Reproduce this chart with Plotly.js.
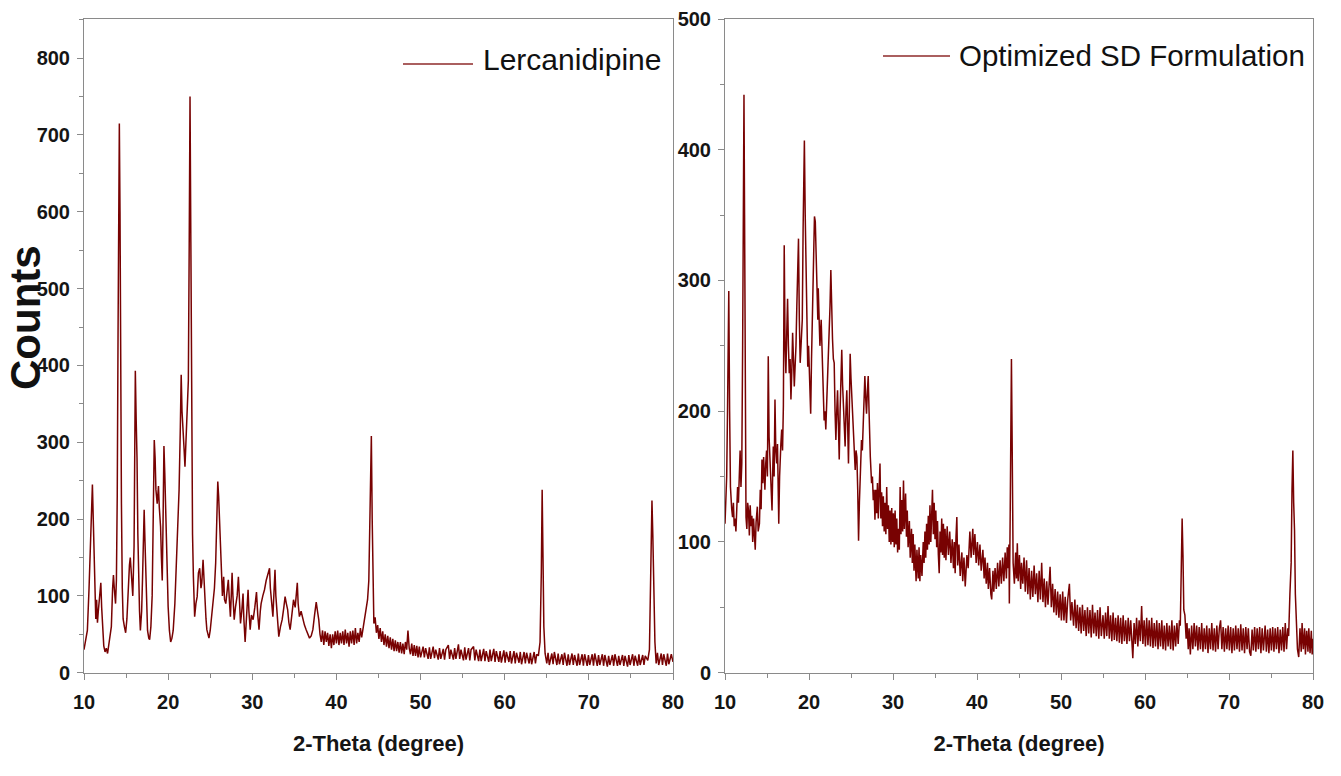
<!DOCTYPE html>
<html>
<head>
<meta charset="utf-8">
<script src="https://cdn.plot.ly/plotly-3.0.1.min.js"></script>
<style>
html,body{margin:0;padding:0;background:#fff;}
#chart{width:1341px;height:776px;}
</style>
</head>
<body>
<div id="chart"></div>
<script>
// ---- Data: [2-theta (degree), counts] ----
const lercanidipineScan = [
[10.0,30],[10.2,45],[10.4,55],[10.6,110],[10.8,190],[11.0,245],[11.1,200],[11.2,150],[11.3,100],[11.4,70],
[11.5,95],[11.6,65],[11.7,80],[11.85,100],[12.0,117],[12.1,85],[12.2,55],[12.35,35],[12.5,27],[12.65,32],
[12.8,25],[12.95,35],[13.1,45],[13.25,60],[13.4,110],[13.5,127],[13.6,110],[13.75,90],[13.85,120],[13.95,230],
[14.05,450],[14.15,690],[14.2,715],[14.28,600],[14.35,400],[14.45,220],[14.55,110],[14.65,70],[14.8,60],[14.95,52],
[15.1,70],[15.25,110],[15.4,140],[15.5,150],[15.65,130],[15.8,100],[15.95,165],[16.05,300],[16.1,393],[16.2,330],
[16.3,280],[16.4,180],[16.5,120],[16.6,80],[16.7,55],[16.85,80],[16.95,120],[17.05,180],[17.15,212],[17.25,170],
[17.35,130],[17.45,80],[17.55,55],[17.7,45],[17.8,43],[17.95,60],[18.1,100],[18.2,180],[18.3,270],[18.35,303],
[18.45,280],[18.55,238],[18.7,220],[18.85,243],[18.95,215],[19.1,190],[19.2,150],[19.3,120],[19.4,200],[19.5,295],
[19.6,260],[19.7,220],[19.8,160],[19.9,110],[20.0,86],[20.15,55],[20.3,40],[20.45,45],[20.6,55],[20.8,90],
[21.0,143],[21.15,190],[21.3,238],[21.45,320],[21.55,388],[21.65,340],[21.8,316],[21.9,290],[22.0,268],[22.1,300],
[22.2,312],[22.3,350],[22.4,380],[22.5,550],[22.6,750],[22.7,560],[22.8,273],[22.9,180],[23.0,125],[23.15,73],
[23.3,90],[23.45,99],[23.6,130],[23.75,136],[23.9,110],[24.0,117],[24.15,147],[24.25,120],[24.35,99],[24.5,70],
[24.6,56],[24.75,50],[24.85,45],[25.0,55],[25.15,70],[25.3,86],[25.5,110],[25.65,143],[25.8,200],[25.9,249],
[26.0,230],[26.1,203],[26.2,160],[26.3,130],[26.45,100],[26.6,125],[26.7,95],[26.85,90],[27.0,105],[27.15,121],
[27.3,90],[27.4,73],[27.5,100],[27.6,130],[27.7,100],[27.85,69],[28.0,85],[28.2,100],[28.35,125],[28.5,90],
[28.6,64],[28.75,80],[28.9,103],[29.0,70],[29.15,40],[29.3,70],[29.5,108],[29.6,80],[29.75,56],[29.9,75],
[30.1,69],[30.3,85],[30.5,105],[30.65,75],[30.8,56],[30.95,80],[31.05,90],[31.25,100],[31.45,108],[31.65,120],
[31.85,130],[32.05,136],[32.15,110],[32.25,99],[32.35,80],[32.45,73],[32.6,110],[32.7,134],[32.8,100],[32.95,73],
[33.05,60],[33.15,47],[33.35,60],[33.55,69],[33.75,85],[33.9,99],[34.05,90],[34.2,82],[34.35,65],[34.5,56],
[34.7,75],[34.9,95],[35.1,85],[35.25,100],[35.35,117],[35.45,90],[35.6,73],[35.8,80],[36.0,69],[36.2,62],
[36.4,56],[36.6,50],[36.8,45],[37.0,48],[37.2,56],[37.4,75],[37.6,92],[37.75,80],[37.9,69],[38.05,50],
[38.2,40],[38.35,55],[38.5,36],[38.65,54],[38.8,40],[38.95,52],[39.1,35],[39.25,50],[39.4,32],[39.55,50],
[39.7,36],[39.85,54],[40.0,38],[40.15,55],[40.3,36],[40.45,52],[40.6,38],[40.75,54],[40.9,36],[41.05,56],
[41.2,38],[41.35,52],[41.5,34],[41.65,54],[41.8,38],[41.95,55],[42.1,36],[42.25,58],[42.4,38],[42.55,52],
[42.7,40],[42.85,58],[43.0,46],[43.2,60],[43.4,75],[43.55,86],[43.7,95],[43.85,120],
[43.95,200],[44.05,290],[44.15,308],[44.25,200],[44.35,110],[44.45,64],[44.6,72],[44.75,52],[44.9,62],[45.05,44],
[45.2,58],[45.35,40],[45.5,54],[45.65,36],[45.8,50],[45.95,34],[46.1,48],[46.25,32],[46.4,46],[46.55,30],
[46.7,44],[46.85,28],[47.0,42],[47.15,28],[47.3,40],[47.45,26],[47.6,40],[47.75,25],[47.9,38],[48.05,24],
[48.2,40],[48.35,30],[48.5,55],[48.65,32],[48.8,24],[48.95,38],[49.1,22],[49.25,36],[49.4,22],[49.55,35],
[49.7,20],[49.85,34],[50.0,20],[50.3,34],[50.45,20],[50.6,32],[50.9,18],[51.05,33],[51.2,18],[51.5,34],
[51.65,19],[51.8,30],[52.1,17],[52.25,32],[52.4,18],[52.7,31],[52.85,17],[53.0,30],[53.3,36],[53.45,18],
[53.6,30],[53.9,17],[54.05,32],[54.2,18],[54.5,37],[54.65,18],[54.8,30],[55.1,16],[55.25,33],[55.4,17],
[55.7,32],[55.85,16],[56.0,30],[56.3,34],[56.45,16],[56.6,30],[56.9,15],[57.05,30],[57.2,15],[57.5,31],
[57.65,15],[57.8,28],[58.1,14],[58.25,30],[58.4,15],[58.7,31],[58.85,14],[59.0,28],[59.3,14],[59.45,28],
[59.6,13],[59.9,29],[60.05,13],[60.2,27],[60.5,14],[60.65,28],[60.8,12],[61.1,28],[61.25,12],[61.4,26],
[61.7,13],[61.85,27],[62.0,11],[62.3,27],[62.45,12],[62.6,26],[62.9,12],[63.05,26],[63.2,11],[63.5,27],
[63.65,12],[63.8,24],[64.0,22],[64.2,40],[64.35,130],[64.45,238],[64.55,150],[64.65,60],[64.8,25],[65.0,12],
[65.15,26],[65.3,10],[65.6,25],[65.75,11],[65.9,27],[66.2,10],[66.35,25],[66.5,11],[66.8,24],[66.95,10],
[67.1,26],[67.4,9],[67.55,24],[67.7,10],[68.0,25],[68.15,10],[68.3,23],[68.6,9],[68.75,25],[68.9,10],
[69.2,24],[69.35,9],[69.5,24],[69.8,9],[69.95,23],[70.1,10],[70.4,24],[70.55,9],[70.7,25],[71.0,9],
[71.15,23],[71.3,10],[71.6,24],[71.75,9],[71.9,23],[72.2,8],[72.35,22],[72.5,10],[72.8,23],[72.95,9],
[73.1,24],[73.4,9],[73.55,22],[73.7,10],[74.0,23],[74.15,9],[74.3,22],[74.6,8],[74.75,23],[74.9,10],
[75.2,24],[75.35,9],[75.5,22],[75.8,9],[75.95,24],[76.1,10],[76.4,23],[76.55,10],[76.7,22],[77.0,16],
[77.2,30],[77.35,110],[77.45,200],[77.5,224],[77.6,180],[77.7,100],[77.85,40],[78.0,12],[78.15,26],[78.3,10],
[78.6,25],[78.75,10],[78.9,24],[79.2,9],[79.35,25],[79.5,11],[79.8,24],[80.0,14]
];

const optimizedSdScan = [
[10.0,114],[10.1,140],[10.2,150],[10.3,200],[10.4,270],[10.45,292],[10.55,200],[10.65,142],[10.8,125],[10.9,119],
[11.0,130],[11.1,112],[11.2,118],[11.3,108],[11.4,125],[11.5,142],[11.6,130],[11.7,165],[11.8,170],[11.9,142],
[12.0,160],[12.1,250],[12.2,400],[12.26,442],[12.33,350],[12.4,200],[12.5,119],[12.6,110],[12.7,130],[12.8,124],
[12.9,105],[13.0,128],[13.1,112],[13.2,120],[13.3,100],[13.4,118],[13.5,98],[13.6,94],[13.7,115],[13.85,127],
[13.95,108],[14.1,114],[14.2,140],[14.3,125],[14.4,163],[14.5,145],[14.6,165],[14.75,140],[14.85,160],[14.95,170],
[15.05,150],[15.15,242],[15.25,180],[15.35,163],[15.45,140],[15.6,124],[15.7,160],[15.75,173],[15.85,150],[15.95,209],
[16.05,170],[16.15,160],[16.25,175],[16.4,114],[16.5,150],[16.55,168],[16.65,175],[16.75,186],[16.85,170],[16.95,204],
[17.05,327],[17.15,250],[17.25,229],[17.35,260],[17.45,286],[17.55,250],[17.65,229],[17.75,240],[17.85,209],[17.95,230],
[18.05,260],[18.15,240],[18.25,219],[18.35,235],[18.45,250],[18.55,280],[18.65,300],[18.75,332],[18.85,270],[18.95,237],
[19.05,250],[19.2,270],[19.3,340],[19.4,395],[19.45,407],[19.55,350],[19.65,300],[19.75,260],[19.85,234],[19.95,250],
[20.05,227],[20.2,198],[20.3,240],[20.4,270],[20.5,300],[20.6,330],[20.65,349],[20.75,345],[20.85,320],[20.95,280],
[21.05,270],[21.1,294],[21.2,260],[21.3,250],[21.45,270],[21.6,239],[21.7,210],[21.8,193],[21.9,200],[22.0,186],
[22.1,205],[22.2,221],[22.3,240],[22.4,250],[22.5,280],[22.6,308],[22.7,270],[22.8,255],[22.9,240],[23.0,237],
[23.1,200],[23.2,178],[23.3,200],[23.4,216],[23.5,190],[23.6,163],[23.7,200],[23.8,230],[23.9,247],[24.0,220],
[24.1,198],[24.2,185],[24.3,173],[24.4,200],[24.5,216],[24.6,190],[24.7,160],[24.8,200],[24.9,244],[25.0,225],
[25.1,211],[25.2,190],[25.3,178],[25.4,165],[25.5,155],[25.6,170],[25.7,165],[25.8,140],[25.9,101],[26.0,130],
[26.05,140],[26.15,165],[26.25,178],[26.35,170],[26.45,186],[26.55,200],[26.65,227],[26.75,210],[26.85,198],[26.95,215],
[27.05,227],[27.15,200],[27.2,181],[27.3,165],[27.45,145],[27.55,150],[27.65,132],[27.75,140],
[27.85,117],[27.95,140],[28.05,122],[28.15,145],[28.25,118],[28.35,140],[28.45,160],[28.55,118],[28.65,138],[28.75,112],
[28.85,135],[28.95,108],[29.05,130],[29.15,106],[29.25,142],[29.35,110],[29.45,128],[29.55,100],[29.65,124],[29.75,98],
[29.85,126],[29.95,100],[30.05,122],[30.15,96],[30.25,124],[30.35,98],[30.45,118],[30.55,92],[30.65,110],[30.75,94],
[30.85,142],[30.95,106],[31.05,132],[31.15,108],[31.25,147],[31.35,110],[31.5,137],[31.6,104],[31.7,124],[31.8,96],
[31.95,116],[32.05,88],[32.2,110],[32.3,84],[32.4,106],[32.5,78],[32.6,98],[32.75,70],[32.85,94],[33.0,72],
[33.1,96],[33.2,70],[33.3,90],[33.45,74],[33.6,100],[33.7,84],[33.8,108],[33.9,88],[34.0,114],[34.1,94],
[34.2,120],[34.3,98],[34.4,128],[34.5,100],[34.6,132],[34.7,140],[34.8,106],[34.9,130],[35.0,102],[35.1,124],
[35.2,96],[35.3,116],[35.4,90],[35.5,76],[35.6,108],[35.7,92],[35.8,118],[35.9,90],[36.0,114],[36.1,88],
[36.2,110],[36.3,86],[36.45,112],[36.6,90],[36.75,108],[36.9,84],[37.05,102],[37.2,80],[37.3,100],[37.4,76],
[37.5,104],[37.6,119],[37.7,82],[37.85,98],[38.0,74],[38.2,92],[38.3,70],[38.45,88],[38.6,66],[38.8,90],
[38.95,80],[39.15,108],[39.3,88],[39.5,110],[39.6,90],[39.75,106],[39.9,84],[40.05,100],[40.2,82],[40.35,98],
[40.5,78],[40.7,94],[40.85,72],[40.95,88],[41.1,68],[41.25,84],[41.35,64],[41.5,80],[41.65,60],[41.75,56],
[41.9,78],[42.0,62],[42.15,80],[42.3,64],[42.45,84],[42.6,66],[42.75,86],[42.9,68],[43.05,88],[43.2,70],
[43.35,92],[43.5,72],[43.6,96],[43.7,80],[43.8,98],[43.85,53],[43.95,120],[44.05,230],[44.1,240],[44.18,180],
[44.25,90],[44.3,84],[44.45,68],[44.6,92],[44.7,72],[44.8,99],[44.9,70],[45.05,90],[45.2,64],[45.3,84],
[45.45,68],[45.6,88],[45.75,62],[45.9,86],[46.05,60],[46.2,80],[46.35,56],[46.5,78],[46.65,58],[46.8,82],
[46.95,60],[47.1,76],[47.25,54],[47.4,78],[47.55,56],[47.7,84],[47.85,54],[48.0,72],[48.15,50],[48.3,70],
[48.45,52],[48.6,66],[48.7,81],[48.85,50],[49.0,68],[49.15,46],[49.3,64],[49.45,44],[49.6,62],[49.75,42],
[49.9,60],[50.05,40],[50.2,62],[50.35,40],[50.5,58],[50.65,38],[50.8,56],[51.0,68],[51.15,40],[51.3,54],
[51.5,36],[51.65,56],[51.8,34],[51.95,52],[52.1,32],[52.25,50],[52.4,30],[52.55,52],[52.7,32],[52.85,48],
[53.0,28],[53.15,50],[53.3,30],[53.45,48],[53.6,27],[53.75,52],[53.9,30],[54.05,46],[54.2,28],[54.35,48],
[54.5,26],[54.65,50],[54.8,28],[55.0,44],[55.15,26],[55.3,46],[55.45,28],[55.6,51],[55.75,26],[55.9,44],
[56.05,24],[56.2,46],[56.35,25],[56.5,42],[56.65,24],[56.8,44],[56.95,23],[57.1,42],[57.25,22],[57.4,44],
[57.55,24],[57.7,40],[57.85,22],[58.0,42],[58.15,24],[58.3,40],[58.45,20],[58.55,11],[58.7,38],[58.85,22],
[59.0,42],[59.15,20],[59.3,40],[59.45,24],[59.6,51],[59.75,22],[59.9,40],[60.05,20],[60.2,42],[60.35,21],
[60.5,40],[60.65,20],[60.8,42],[60.95,19],[61.1,38],[61.25,20],[61.4,40],[61.55,18],[61.7,38],[61.85,20],
[62.0,40],[62.15,18],[62.3,36],[62.45,17],[62.6,38],[62.75,20],[62.9,36],[63.05,18],[63.2,40],[63.35,17],
[63.5,36],[63.65,20],[63.8,38],[63.95,22],[64.1,40],[64.2,36],[64.32,80],[64.42,118],[64.52,90],[64.62,48],
[64.75,44],[64.9,26],[65.0,38],[65.15,18],[65.25,34],[65.4,14],[65.55,36],[65.7,18],[65.85,38],[66.0,20],
[66.15,36],[66.3,17],[66.45,35],[66.6,18],[66.75,38],[66.9,16],[67.05,34],[67.2,18],[67.35,36],[67.5,15],
[67.65,34],[67.8,18],[67.95,38],[68.1,17],[68.25,34],[68.4,16],[68.55,36],[68.7,18],[68.85,34],[69.0,40],
[69.15,18],[69.3,35],[69.45,16],[69.6,34],[69.75,18],[69.9,36],[70.05,17],[70.2,35],[70.35,15],[70.5,34],
[70.65,17],[70.8,36],[70.95,18],[71.1,34],[71.25,16],[71.4,37],[71.55,17],[71.7,34],[71.85,15],[72.0,35],
[72.15,18],[72.3,34],[72.45,16],[72.6,13],[72.75,33],[72.9,17],[73.05,35],[73.2,16],[73.35,34],[73.5,18],
[73.65,35],[73.8,15],[73.95,34],[74.1,17],[74.3,36],[74.45,16],[74.6,33],[74.75,15],[74.9,34],[75.05,17],
[75.2,35],[75.35,16],[75.5,34],[75.65,18],[75.8,35],[75.95,15],[76.1,33],[76.25,17],[76.4,35],[76.55,16],
[76.7,38],[76.85,18],[77.0,34],[77.1,28],[77.25,60],[77.4,84],[77.5,140],[77.6,170],[77.7,130],[77.8,109],
[77.9,60],[78.0,38],[78.15,18],[78.3,12],[78.45,34],[78.6,16],[78.7,38],[78.85,18],[79.0,34],[79.1,14],
[79.25,32],[79.4,16],[79.5,34],[79.65,15],[79.8,32],[79.9,14],[80.0,26]
];

const seriesNames = ["Lercanidipine", "Optimized SD Formulation"];
const xTitle = "2-Theta (degree)";
const yTitle = "Counts";
const xRange = [10, 80];
const yRangeLeft = [0, 851];
const yRangeRight = [0, 500];

// ---- Styling ----
const W = 1341, H = 776;
const px = v => v / W;
const py = v => 1 - v / H;
const lineColor = "#780202";
const axisColor = "#8a8a8a";
const sans = "'Liberation Sans',Arial,Helvetica,sans-serif";
const tickFont = {family: sans, size: 20, color: "#151515", weight: "bold"};
const titleFont = {family: sans, size: 22, color: "#151515", weight: "bold"};

function xAxis(domain, anchor) {
  return {
    domain: domain, anchor: anchor, range: xRange, autorange: false,
    tick0: 10, dtick: 10, ticks: "outside", ticklen: 6, tickwidth: 1, tickcolor: axisColor,
    minor: {dtick: 5, tick0: 10, ticks: "outside", ticklen: 4, tickwidth: 1, tickcolor: axisColor},
    showline: true, linecolor: axisColor, linewidth: 1, mirror: true,
    showgrid: false, zeroline: false, tickfont: tickFont, ticklabelstandoff: 5,
    title: {text: xTitle, font: titleFont, standoff: 23}
  };
}
function yAxis(domain, anchor, range) {
  return {
    domain: domain, anchor: anchor, range: range, autorange: false,
    tick0: 0, dtick: 100, ticks: "outside", ticklen: 6, tickwidth: 1, tickcolor: axisColor,
    minor: {dtick: 50, tick0: 0, ticks: "outside", ticklen: 4, tickwidth: 1, tickcolor: axisColor},
    showline: true, linecolor: axisColor, linewidth: 1, mirror: true,
    showgrid: false, zeroline: false, tickfont: tickFont, ticklabelstandoff: 3
  };
}

const yDom = [py(672.7), py(19)];
const traces = [
  {x: lercanidipineScan.map(p => p[0]), y: lercanidipineScan.map(p => p[1]), name: seriesNames[0],
   type: "scatter", mode: "lines", xaxis: "x", yaxis: "y", line: {color: lineColor, width: 1.5}},
  {x: optimizedSdScan.map(p => p[0]), y: optimizedSdScan.map(p => p[1]), name: seriesNames[1],
   type: "scatter", mode: "lines", xaxis: "x2", yaxis: "y2", line: {color: lineColor, width: 1.5}}
];

const layout = {
  width: W, height: H,
  margin: {l: 0, r: 0, t: 0, b: 0, autoexpand: false},
  paper_bgcolor: "#ffffff", plot_bgcolor: "#ffffff",
  showlegend: false,
  xaxis: xAxis([px(84), px(673)], "y"),
  yaxis: yAxis(yDom, "x", yRangeLeft),
  xaxis2: xAxis([px(725), px(1313)], "y2"),
  yaxis2: yAxis(yDom, "x2", yRangeRight),
  shapes: [
    {type: "line", xref: "paper", yref: "paper", x0: px(403), x1: px(473), y0: py(64), y1: py(64),
     line: {color: "#8e2a2a", width: 1.6}},
    {type: "line", xref: "paper", yref: "paper", x0: px(883), x1: px(950), y0: py(56), y1: py(56),
     line: {color: "#8e2a2a", width: 1.6}}
  ],
  annotations: [
    {xref: "paper", yref: "paper", x: px(25), y: py(318), xanchor: "center", yanchor: "middle",
     text: yTitle, textangle: -90, showarrow: false,
     font: {family: sans, size: 42, color: "#111", weight: "bold"}},
    {xref: "paper", yref: "paper", x: px(481), y: py(60), xanchor: "left", yanchor: "middle",
     text: seriesNames[0], showarrow: false, font: {family: sans, size: 30, color: "#111"}},
    {xref: "paper", yref: "paper", x: px(957), y: py(56), xanchor: "left", yanchor: "middle",
     text: seriesNames[1], showarrow: false, font: {family: sans, size: 29.5, color: "#111"}}
  ]
};

Plotly.newPlot("chart", traces, layout, {displayModeBar: false, staticPlot: true});
</script>
</body>
</html>
